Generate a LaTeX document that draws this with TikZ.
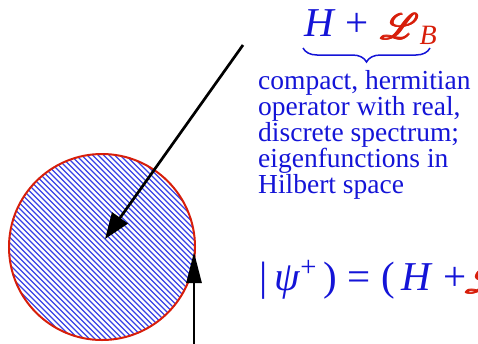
\documentclass[tikz,border=0pt]{standalone}
\usepackage{fontspec}
\setmainfont{Liberation Serif}
\usepackage{mathrsfs}
\usetikzlibrary{arrows.meta,decorations.pathreplacing}
\definecolor{myblue}{RGB}{20,20,215}
\definecolor{hatchblue}{RGB}{55,65,230}
\definecolor{myred}{RGB}{215,30,10}
\newcommand{\boldscrL}{\textcolor{myred}{\raisebox{-3pt}{\scalebox{1.45}{\rlap{$\mathscr{L}$}\rlap{\hspace{0.5pt}$\mathscr{L}$}\rlap{\hspace{1pt}$\mathscr{L}$}\rlap{\raisebox{0.5pt}{\hspace{0.7pt}$\mathscr{L}$}}\hspace{1.3pt}$\mathscr{L}$}}}}
\tikzset{
  hatch/.style={hatchblue, line width=1.35pt},
  ptr/.style={black, line width=2.7pt, -{Triangle[length=26pt,width=19pt]}},
  ptrb/.style={black, line width=2.7pt, -{Triangle[length=31pt,width=15pt]}},
  bigmath/.style={anchor=base west, inner sep=0pt, text=myblue, font=\fontsize{41}{41}\selectfont},
  desctext/.style={anchor=base west, inner sep=0pt, align=left, text=myblue, font=\fontsize{27.5}{26}\selectfont}
}
\begin{document}
\begin{tikzpicture}[x=1pt,y=-1pt]
\useasboundingbox (0,0) rectangle (478,343);
% hatched disk
\begin{scope}
  \clip (102,247) circle (93pt);
  \foreach \i in {-198,-192.5,...,200}
    \draw[hatch] (2+\i,147) -- (202+\i,347);
\end{scope}
\node[circle, draw=myred, line width=2pt, minimum size=186pt, inner sep=0pt] (disk) at (102,247) {};
% arrows
\coordinate (a0) at (243,45);
\coordinate (a1) at (105,239);
\draw[ptr] (a0) -- (a1);
\coordinate (b0) at (194,345);
\coordinate (b1) at (194,252);
\draw[ptrb] (b0) -- (b1);
% top formula
\node[bigmath] (sum) at (304,36) {\textit{H} + \boldscrL\raisebox{-8pt}{\textcolor{myred}{\fontsize{28}{28}\selectfont\textit{B}}}};
\coordinate (br0) at (303,48);
\coordinate (br1) at (430,48);
\draw[myblue, line width=1.5pt, decorate, decoration={brace, mirror, amplitude=14pt}] (br0) -- (br1);
% description
\node[desctext] (desc) at (258,193) {compact, hermitian\\operator with real,\\discrete spectrum;\\eigenfunctions in\\Hilbert space};
% second formula
\node[bigmath] (eq) at (259,290) {\textup{|}\,\textit{ψ}\raisebox{4pt}{\textsuperscript{+}}\,) = (\,\textit{H} +\hspace{-2pt}\boldscrL};
\end{tikzpicture}
\end{document}
